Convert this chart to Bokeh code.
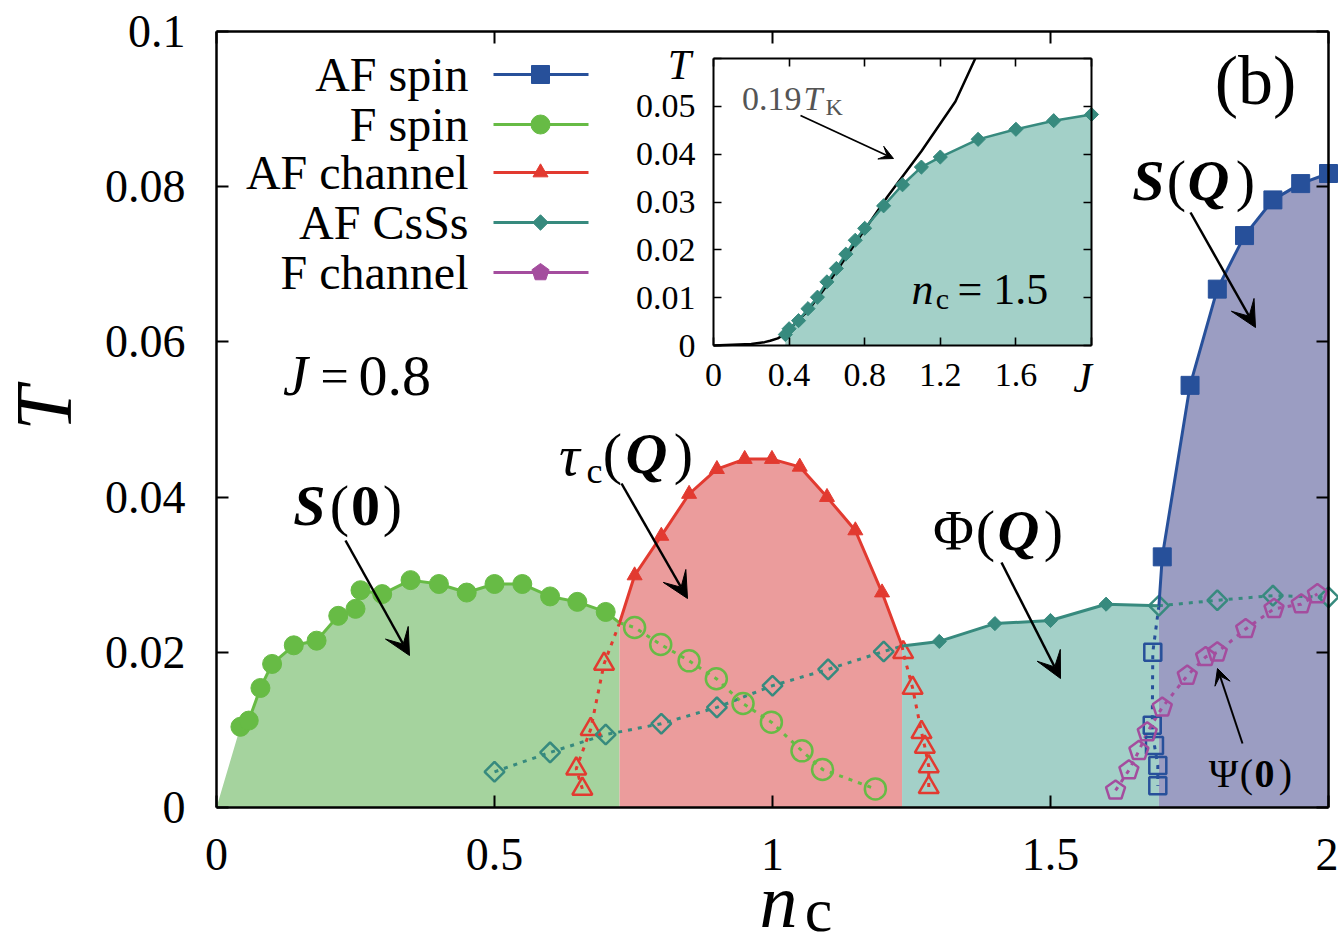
import numpy as np
from bokeh.plotting import figure
from bokeh.models import Range1d, LinearAxis, FixedTicker, Label, Arrow, VeeHead
from bokeh.embed import file_html
from bokeh.resources import INLINE

# ---------------- data ----------------
x_ticks = [0.0, 0.5, 1.0, 1.5, 2.0]
x_tick_labels = ["0", "0.5", "1", "1.5", "2"]
y_ticks = [0.0, 0.02, 0.04, 0.06, 0.08, 0.1]
y_tick_labels = ["0", "0.02", "0.04", "0.06", "0.08", "0.1"]

# phase-boundary junctions (F spin | AF channel | AF CsSs | AF spin)
junction_x = [0.725, 1.233, 1.695]
junction_y = [0.0238, 0.0208, 0.0260]

# F spin, S(0): solid boundary and dotted continuation
fspin_x = [0.043, 0.058, 0.079, 0.100, 0.139, 0.180, 0.219, 0.250, 0.259, 0.298,
           0.349, 0.400, 0.450, 0.500, 0.550, 0.600, 0.649, 0.700]
fspin_y = [0.0104, 0.0112, 0.0154, 0.0185, 0.0209, 0.0215, 0.0247, 0.0256, 0.0280, 0.0275,
           0.0293, 0.0288, 0.0277, 0.0288, 0.0288, 0.0272, 0.0265, 0.0252]
fspin_open_x = [0.752, 0.799, 0.850, 0.899, 0.947, 0.998, 1.053, 1.090, 1.185]
fspin_open_y = [0.0232, 0.0210, 0.0189, 0.0166, 0.0134, 0.0110, 0.0073, 0.0049, 0.0024]

# AF channel, tau_c(Q)
afch_x = [0.752, 0.800, 0.850, 0.900, 0.950, 0.999, 1.049, 1.098, 1.149, 1.197]
afch_y = [0.0299, 0.0350, 0.0404, 0.0436, 0.0449, 0.0449, 0.0439, 0.0400, 0.0357, 0.0277]
afch_open_l_x = [0.697, 0.673, 0.647, 0.658]
afch_open_l_y = [0.0185, 0.0101, 0.0050, 0.0024]
afch_open_r_x = [1.235, 1.252, 1.268, 1.274, 1.281, 1.281]
afch_open_r_y = [0.0200, 0.0154, 0.0097, 0.0078, 0.0053, 0.0026]

# AF CsSs, Phi(Q)
csss_x = [1.300, 1.400, 1.500, 1.600]
csss_y = [0.0214, 0.0237, 0.0241, 0.0262]
csss_open_l_x = [0.500, 0.600, 0.700, 0.800, 0.900, 1.000, 1.100, 1.200]
csss_open_l_y = [0.0046, 0.0071, 0.0094, 0.0108, 0.0129, 0.0157, 0.0178, 0.0201]
csss_open_r_x = [1.695, 1.800, 1.900, 2.000]
csss_open_r_y = [0.0260, 0.0267, 0.0273, 0.0271]

# AF spin, S(Q)
afspin_x = [1.701, 1.751, 1.800, 1.849, 1.900, 1.950, 2.000]
afspin_y = [0.0323, 0.0544, 0.0668, 0.0737, 0.0783, 0.0804, 0.0817]
afspin_open_x = [1.684, 1.683, 1.687, 1.693, 1.693]
afspin_open_y = [0.0200, 0.0106, 0.0080, 0.0054, 0.0028]

# F channel, Psi(0)
fch_x = [1.617, 1.641, 1.659, 1.674, 1.701, 1.746, 1.779, 1.800, 1.851, 1.902, 1.951, 1.980]
fch_y = [0.0022, 0.0048, 0.0073, 0.0097, 0.0129, 0.0170, 0.0194, 0.0200, 0.0230, 0.0256, 0.0262, 0.0275]

legend_labels = ["AF spin", "F spin", "AF channel", "AF CsSs", "F channel"]

# inset: n_c = 1.5
inset_x_range = [0.0, 2.0]
inset_y_range = [0.0, 0.06]
inset_x_ticks = [0.0, 0.4, 0.8, 1.2, 1.6, 2.0]
inset_x_tick_labels = ["0", "0.4", "0.8", "1.2", "1.6", ""]
inset_y_ticks = [0.0, 0.01, 0.02, 0.03, 0.04, 0.05, 0.06]
inset_y_tick_labels = ["0", "0.01", "0.02", "0.03", "0.04", "0.05", ""]
inset_j = [0.38, 0.40, 0.45, 0.50, 0.55, 0.60, 0.65, 0.70, 0.75, 0.80, 0.90, 1.00, 1.10,
           1.20, 1.40, 1.60, 1.80, 2.00]
inset_t = [0.0023, 0.0035, 0.0052, 0.0077, 0.0101, 0.0133, 0.0161, 0.0191, 0.0220, 0.0245,
           0.0292, 0.0336, 0.0373, 0.0394, 0.0431, 0.0452, 0.0470, 0.0483]
tk_j = [0.00, 0.20, 0.27, 0.30, 0.34, 0.375, 0.43, 0.50, 0.58, 0.66, 0.81, 0.92, 1.10, 1.28, 1.385]
tk_t = [0.0000, 0.0003, 0.0007, 0.0010, 0.0015, 0.0023, 0.0045, 0.0073, 0.0115, 0.0161,
        0.0248, 0.0311, 0.0406, 0.0510, 0.0600]

# ---------------- style ----------------
FONT = "Liberation Serif"
C_BLUE, F_BLUE = "#27509a", "#9b9dc2"
C_GREEN, F_GREEN = "#67bb45", "#a5d39e"
C_RED, F_RED = "#e23a30", "#eb9c9c"
C_TEAL, F_TEAL = "#378a7e", "#a3d0c8"
C_MAG = "#a44d9e"
GREY = "#555555"

W, H = 1338, 942
FL, FR, FT, FB = 216, 1328, 31, 807      # main axes box in pixels
PXX = (FR - FL) / (x_ticks[-1] - x_ticks[0])     # px per unit n_c
PXY = (FB - FT) / (y_ticks[-1] - y_ticks[0])     # px per unit T


def X(px):
    return (px - FL) / PXX


def Y(py):
    return (FB - py) / PXY


# inset box in pixels -> extra ranges
IL, IR, IT, IB = 713, 1091, 58, 345
ipx = (IR - IL) / (inset_x_range[1] - inset_x_range[0])
ipy = (IB - IT) / (inset_y_range[1] - inset_y_range[0])

# the frame covers the whole canvas; the axes are drawn at fixed locations
p = figure(width=W, height=H, x_range=Range1d(X(0), X(W)), y_range=Range1d(Y(H), Y(0)),
           output_backend="svg", toolbar_location=None,
           x_axis_location=None, y_axis_location=None,
           min_border_left=0, min_border_right=0, min_border_top=0, min_border_bottom=0)
p.title.visible = False
p.outline_line_color = None
p.grid.grid_line_color = None
p.background_fill_color = "white"
p.border_fill_color = "white"
p.extra_x_ranges = {"ix": Range1d((0 - IL) / ipx, (W - IL) / ipx)}
p.extra_y_ranges = {"iy": Range1d((IB - H) / ipy, (IB - 0) / ipy)}


def make_axis(ticks, labels, fs, standoff, tick_len, lw, **kw):
    ax = LinearAxis(ticker=FixedTicker(ticks=ticks),
                    major_label_overrides={t: l for t, l in zip(ticks, labels)}, **kw)
    ax.axis_line_width = lw
    ax.axis_line_color = "black"
    ax.major_tick_in = tick_len
    ax.major_tick_out = 0
    ax.major_tick_line_width = lw * 0.8
    ax.major_tick_line_color = "black"
    ax.minor_tick_line_color = None
    ax.major_label_text_font = FONT
    ax.major_label_text_font_size = fs
    ax.major_label_text_color = "black"
    ax.major_label_standoff = standoff
    return ax


xb = (x_ticks[0], x_ticks[-1])
yb = (y_ticks[0], y_ticks[-1])
p.add_layout(make_axis(x_ticks, x_tick_labels, "46px", 31, 12, 2.5,
                       fixed_location=yb[0], bounds=xb), "below")
p.add_layout(make_axis(y_ticks, y_tick_labels, "46px", 31, 12, 2.5,
                       fixed_location=xb[0], bounds=yb), "left")
p.add_layout(make_axis(x_ticks, [""] * len(x_ticks), "0px", 0, 12, 2.5,
                       fixed_location=yb[1], bounds=xb), "above")
p.add_layout(make_axis(y_ticks, [""] * len(y_ticks), "0px", 0, 12, 2.5,
                       fixed_location=xb[1], bounds=yb), "right")

# ---------------- phase fills ----------------
jx, jy = junction_x, junction_y
p.varea(x=[0.0] + fspin_x + [jx[0]], y1=0, y2=[0.0] + fspin_y + [jy[0]], fill_color=F_GREEN)
p.varea(x=[jx[0]] + afch_x + [jx[1]], y1=0, y2=[jy[0]] + afch_y + [jy[1]], fill_color=F_RED)
p.varea(x=[jx[1]] + csss_x + [jx[2]], y1=0, y2=[jy[1]] + csss_y + [jy[2]], fill_color=F_TEAL)
p.varea(x=[jx[2]] + afspin_x, y1=0, y2=[jy[2]] + afspin_y, fill_color=F_BLUE)

# ---------------- dotted (metastable) branches ----------------
DOT = "4 6"
p.line([jx[0]] + fspin_open_x, [jy[0]] + fspin_open_y, line_color=C_GREEN, line_width=3, line_dash=DOT)
p.line([jx[0]] + afch_open_l_x, [jy[0]] + afch_open_l_y, line_color=C_RED, line_width=3, line_dash=DOT)
p.line([jx[1]] + afch_open_r_x, [jy[1]] + afch_open_r_y, line_color=C_RED, line_width=3, line_dash=DOT)
p.line(csss_open_l_x + [jx[1]], csss_open_l_y + [jy[1]], line_color=C_TEAL, line_width=3, line_dash=DOT)
p.line(csss_open_r_x, csss_open_r_y, line_color=C_TEAL, line_width=3, line_dash=DOT)
p.line([jx[2]] + afspin_open_x, [jy[2]] + afspin_open_y, line_color=C_BLUE, line_width=3, line_dash=DOT)
p.line(fch_x, fch_y, line_color=C_MAG, line_width=3, line_dash=DOT)

p.scatter(fspin_open_x, fspin_open_y, marker="circle", size=21, fill_color=None,
          line_color=C_GREEN, line_width=2.5)
p.scatter(afch_open_l_x + afch_open_r_x, afch_open_l_y + afch_open_r_y, marker="triangle",
          size=20, fill_color=None, line_color=C_RED, line_width=2.5)
p.scatter(csss_open_l_x + csss_open_r_x, csss_open_l_y + csss_open_r_y, marker="square",
          angle=np.pi / 4, size=14, fill_color=None, line_color=C_TEAL, line_width=2.5)
p.scatter(afspin_open_x, afspin_open_y, marker="square", size=17, fill_color=None,
          line_color=C_BLUE, line_width=2.5)


def pentagons(xs, ys, r, sx=PXX, sy=PXY):
    ang = np.pi / 2 + np.arange(5) * 2 * np.pi / 5
    return ([list(x + r * np.cos(ang) / sx) for x in xs],
            [list(y + r * np.sin(ang) / sy) for y in ys])


pxs, pys = pentagons(fch_x, fch_y, 10)
p.patches(pxs, pys, fill_color=None, line_color=C_MAG, line_width=2.5)

# ---------------- solid boundaries ----------------
p.line(fspin_x + [jx[0]], fspin_y + [jy[0]], line_color=C_GREEN, line_width=3)
p.line([jx[0]] + afch_x + [jx[1]], [jy[0]] + afch_y + [jy[1]], line_color=C_RED, line_width=3)
p.line([jx[1]] + csss_x + [jx[2]], [jy[1]] + csss_y + [jy[2]], line_color=C_TEAL, line_width=3)
p.line([jx[2]] + afspin_x, [jy[2]] + afspin_y, line_color=C_BLUE, line_width=3)
p.scatter(fspin_x, fspin_y, marker="circle", size=19, fill_color=C_GREEN, line_color=C_GREEN)
p.scatter(afch_x, afch_y, marker="triangle", size=15, fill_color=C_RED, line_color=C_RED)
p.scatter(csss_x, csss_y, marker="square", angle=np.pi / 4, size=10, fill_color=C_TEAL, line_color=C_TEAL)
p.scatter(afspin_x, afspin_y, marker="square", size=18, fill_color=C_BLUE, line_color=C_BLUE)

# ---------------- inset ----------------
R = dict(x_range_name="ix", y_range_name="iy")
p.quad(left=inset_x_range[0], right=inset_x_range[1], bottom=inset_y_range[0],
       top=inset_y_range[1], fill_color="white", line_color=None, **R)
p.varea(x=inset_j, y1=0, y2=inset_t, fill_color=F_TEAL, **R)
p.line(tk_j, tk_t, line_color="black", line_width=2.5, **R)
p.line(inset_j, inset_t, line_color=C_TEAL, line_width=2.5, **R)
p.scatter(inset_j, inset_t, marker="square", angle=np.pi / 4, size=10, fill_color=C_TEAL,
          line_color=C_TEAL, **R)

ixb, iyb = tuple(inset_x_range), tuple(inset_y_range)
p.add_layout(make_axis(inset_x_ticks, inset_x_tick_labels, "34px", 18, 8, 2,
                       fixed_location=iyb[0], bounds=ixb, **R), "below")
p.add_layout(make_axis(inset_y_ticks, inset_y_tick_labels, "34px", 18, 8, 2,
                       fixed_location=ixb[0], bounds=iyb, **R), "left")
p.add_layout(make_axis(inset_x_ticks, [""] * len(inset_x_ticks), "0px", 0, 8, 2,
                       fixed_location=iyb[1], bounds=ixb, **R), "above")
p.add_layout(make_axis(inset_y_ticks, [""] * len(inset_y_ticks), "0px", 0, 8, 2,
                       fixed_location=ixb[1], bounds=iyb, **R), "right")


# ---------------- texts ----------------
def txt(s, px, py, size, style="normal", color="black", align="center", angle=0.0):
    p.add_layout(Label(x=X(px), y=Y(py), text=s, text_font=FONT, text_font_size=f"{size}px",
                       text_font_style=style, text_color=color, text_align=align,
                       text_baseline="middle", angle=angle))


def arrow(x0, y0, x1, y1, head=26, lw=2.5):
    p.add_layout(Arrow(x_start=X(x0), y_start=Y(y0), x_end=X(x1), y_end=Y(y1),
                       line_width=lw, line_color="black",
                       end=VeeHead(size=head, fill_color="black", line_color="black")))


# axis titles
txt("T", 43, 408, 80, "italic", angle=np.pi / 2)
txt("n", 778, 900, 76, "italic")
txt("c", 818, 909, 62)

# S(0)
txt("S", 309, 505, 58, "bold italic"); txt("(", 339, 505, 58); txt("0", 365, 505, 58, "bold"); txt(")", 392, 505, 58)
arrow(345, 540, 409, 655)
# tau_c(Q)
txt("τ", 569, 455, 58, "italic"); txt("c", 594, 470, 36); txt("(", 612, 453, 58)
txt("Q", 646, 453, 58, "bold italic"); txt(")", 683, 453, 58)
arrow(621, 483, 687, 598)
# Phi(Q)
txt("Φ", 953, 530, 56); txt("(", 985, 530, 58); txt("Q", 1018, 530, 58, "bold italic"); txt(")", 1053, 530, 58)
arrow(1001, 562, 1060, 678)
# S(Q)
txt("S", 1148, 180, 58, "bold italic"); txt("(", 1176, 180, 58)
txt("Q", 1208, 180, 58, "bold italic"); txt(")", 1245, 180, 58)
arrow(1190, 212, 1255, 327)
# Psi(0)
txt("Ψ", 1223, 773, 40); txt("(", 1246, 773, 40); txt("0", 1264, 773, 40, "bold"); txt(")", 1285, 773, 40)
arrow(1242, 743, 1217, 668, head=16, lw=2)
# J = 0.8 and (b)
txt("J", 295, 375, 56, "italic"); txt("=", 334, 375, 50); txt("0.8", 358, 375, 58, align="left")
txt("(b)", 1255, 80, 70)

# inset texts
txt("T", 679, 64, 42, "italic")
txt("J", 1082, 377, 42, "italic")
txt("0.19", 801, 98, 34, color=GREY, align="right")
txt("T", 803, 98, 34, "italic", color=GREY, align="left")
txt("K", 825, 106, 24, color=GREY, align="left")
arrow(800, 115, 893, 158, head=14, lw=1.8)
txt("n", 922, 289, 44, "italic"); txt("c", 942, 298, 30); txt("= 1.5", 957, 289, 44, align="left")

# ---------------- legend (labels left, samples right) ----------------
leg_rows = [74, 124, 172, 222, 272]
leg_colors = [C_BLUE, C_GREEN, C_RED, C_TEAL, C_MAG]
for lab, row in zip(legend_labels, leg_rows):
    txt(lab, 468, row, 48, align="right")
lx0, lx1, lxm = X(493), X(588), X(540)
for row, col in zip(leg_rows, leg_colors):
    p.line([lx0, lx1], [Y(row), Y(row)], line_color=col, line_width=3)
p.scatter([lxm], [Y(leg_rows[0])], marker="square", size=18, fill_color=C_BLUE, line_color=C_BLUE)
p.scatter([lxm], [Y(leg_rows[1])], marker="circle", size=19, fill_color=C_GREEN, line_color=C_GREEN)
p.scatter([lxm], [Y(leg_rows[2])], marker="triangle", size=15, fill_color=C_RED, line_color=C_RED)
p.scatter([lxm], [Y(leg_rows[3])], marker="square", angle=np.pi / 4, size=11, fill_color=C_TEAL, line_color=C_TEAL)
lpx, lpy = pentagons([lxm], [Y(leg_rows[4])], 9)
p.patches(lpx, lpy, fill_color=C_MAG, line_color=C_MAG, line_width=1)

open("out.html", "w").write(file_html(p, INLINE))
